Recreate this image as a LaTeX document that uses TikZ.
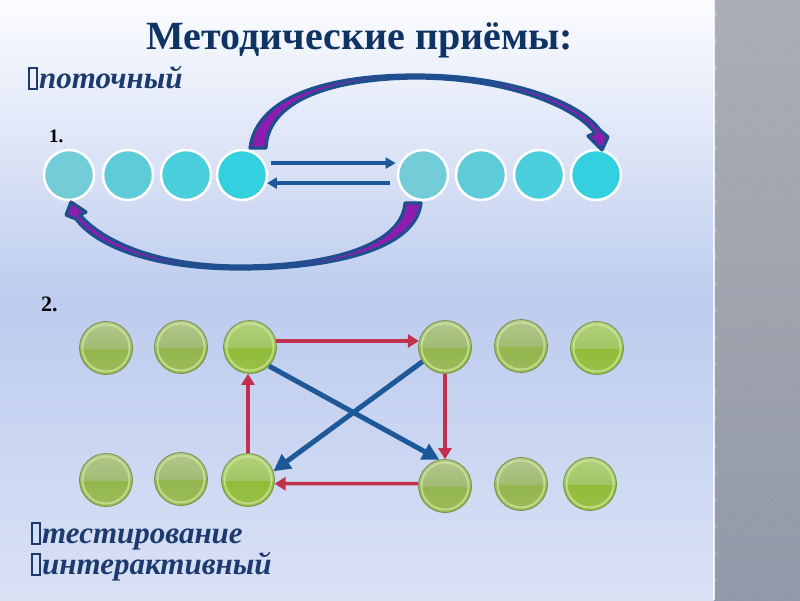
\documentclass[tikz,border=0pt]{standalone}
\usepackage{fontspec}
\setmainfont{Liberation Serif}
\usetikzlibrary{arrows.meta}
\definecolor{tcol}{HTML}{0F3362}
\definecolor{scol}{HTML}{1C3A6E}
\definecolor{bgtop}{HTML}{FBFCFF}
\definecolor{bgmid}{HTML}{BDCCEE}
\definecolor{bgbot}{HTML}{D9E1F5}
\definecolor{pantop}{HTML}{B8BCC4}
\definecolor{panbot}{HTML}{9EA5B5}
\definecolor{cyA}{HTML}{72CDD8}
\definecolor{cyB}{HTML}{5ECBD9}
\definecolor{cyC}{HTML}{4ACEDC}
\definecolor{cyD}{HTML}{33D1DF}
\definecolor{arcblue}{HTML}{1F4F8F}
\definecolor{arcfill}{HTML}{8C1DAE}
\definecolor{lblue}{HTML}{1D5898}
\definecolor{lred}{HTML}{C3304E}
\definecolor{gupA}{HTML}{B3C98E}
\definecolor{gupB}{HTML}{A2BC74}
\definecolor{glowA}{HTML}{8CB03F}
\definecolor{glowB}{HTML}{9CBC5C}
\definecolor{gupSA}{HTML}{B2D27E}
\definecolor{gupSB}{HTML}{A1C764}
\definecolor{glowSA}{HTML}{88B72A}
\definecolor{glowSB}{HTML}{99C24A}
\definecolor{gring}{HTML}{D3E6A0}
\definecolor{gedge}{HTML}{728C48}
\newcommand\bx{{\fboxsep=0pt\fboxrule=2pt\fbox{\rule{0pt}{19pt}\hspace{5.5pt}}}\hspace{1.5pt}}
\tikzset{
  cyc/.style={circle, inner sep=0pt, minimum size=50pt, draw=white, line width=2.5pt, fill=#1},
  gbase/.style n args={4}{circle, inner sep=0pt, minimum size=53pt, draw=gedge, line width=0.7pt, fill=#3,
    path picture={
      \shade[top color=#3, bottom color=#4] ([xshift=-30pt,yshift=-30pt]path picture bounding box.center) rectangle ([xshift=30pt]path picture bounding box.center);
      \shade[top color=#1, bottom color=#2] ([xshift=-30pt]path picture bounding box.center) rectangle ([xshift=30pt,yshift=30pt]path picture bounding box.center);
      \draw[gring, line width=2pt, opacity=0.7] (path picture bounding box.center) circle (23.5pt);
    }},
  gbtn/.style={gbase={gupA}{gupB}{glowA}{glowB}},
  gbtnS/.style={gbase={gupSA}{gupSB}{glowSA}{glowSB}},
  arcarrow/.style={draw=arcblue, line width=3.2pt, fill=arcfill, line join=round},
  barrow/.style={draw=lblue, line width=3.5pt, -{Triangle[length=10pt,width=11pt]}},
  bigblue/.style={draw=lblue, line width=5pt, -{Triangle[length=17pt,width=17pt]}},
  redarrow/.style={draw=lred, line width=3.5pt, -{Triangle[length=11pt,width=13pt]}},
  subtxt/.style={anchor=base west, font=\fontsize{31}{33}\selectfont\bfseries\itshape, text=scol, inner sep=0pt}
}
\begin{document}
\begin{tikzpicture}[x=1pt,y=-1pt]
\useasboundingbox (0,0) rectangle (800,600);
% background
\shade[top color=bgtop, bottom color=bgmid] (0,0) rectangle (714,300.5);
\shade[top color=bgmid, bottom color=bgbot] (0,300) rectangle (714,600);
% right panel
\begin{scope}
\clip (714,0) rectangle (800,600);
\shade[top color=pantop, bottom color=panbot] (714,0) rectangle (800,600);
\foreach \i in {0,...,7} {
  \foreach \j in {0,...,45} {
    \pgfmathparse{int(mod(\i+\j,2))}
    \ifnum\pgfmathresult=0
      \fill[black, opacity=0.07] (718+\i*13.5, \j*13.5-13.5) -- ++(13.5,13.5) -- ++(-13.5,13.5) -- ++(-13.5,-13.5) -- cycle;
    \fi
  }
}
\end{scope}
\fill[white, opacity=0.8] (712.5,0) rectangle (714.5,600);

% title and labels
\node[font=\fontsize{40}{44}\selectfont\bfseries, text=tcol] (title) at (360,40) {Методические приёмы:};
\node[subtxt] (sub1) at (28,88) {\bx поточный};
\node[anchor=base west, font=\fontsize{19}{20}\selectfont\bfseries, inner sep=0pt] (n1) at (49,142) {1.};
\node[anchor=base west, font=\fontsize{22}{24}\selectfont\bfseries, inner sep=0pt] (n2) at (41,311) {2.};
\node[subtxt] (sub2) at (31,543) {\bx тестирование};
\node[subtxt] (sub3) at (31,574) {\bx интерактивный};

% cyan circles
\node[cyc=cyA] (c1) at (69,175) {};
\node[cyc=cyB] (c2) at (128,175) {};
\node[cyc=cyC] (c3) at (186,175) {};
\node[cyc=cyD] (c4) at (242,175) {};
\node[cyc=cyA] (c5) at (423,175) {};
\node[cyc=cyB] (c6) at (481,175) {};
\node[cyc=cyC] (c7) at (539,175) {};
\node[cyc=cyD] (c8) at (596,175) {};

% straight arrows between groups
\draw[barrow, shorten <=6pt, shorten >=4pt] (c4.27) -- (c5.153);
\draw[barrow, shorten <=8pt] (c5.198) -- (c4.-18);

% top curved arrow
\draw[arcarrow] (250,148) .. controls (256,100) and (320,75) .. (415,75)
  .. controls (505,75) and (578,100) .. (600,130) -- (608,137) -- (602,150) -- (588,136) -- (595,133)
  .. controls (575,106) and (505,78) .. (415,78)
  .. controls (325,79) and (268,103) .. (266,148) -- cycle;
% bottom curved arrow
\draw[arcarrow] (421,203) .. controls (416,250) and (330,269) .. (240,269)
  .. controls (150,269) and (95,245) .. (76,219) -- (66,215) -- (71,202) -- (86,212) -- (80,215)
  .. controls (100,238) and (150,266) .. (240,266)
  .. controls (330,266) and (402,245) .. (405,203) -- cycle;

% green buttons
\node[gbtn]  (g1) at (106,348) {};
\node[gbtn]  (g2) at (181,347) {};
\node[gbtnS] (g3) at (250,347) {};
\node[gbtn]  (g4) at (445,347) {};
\node[gbtn]  (g5) at (521,346) {};
\node[gbtnS] (g6) at (597,348) {};
\node[gbtn]  (h1) at (106,480) {};
\node[gbtn]  (h2) at (181,479) {};
\node[gbtnS] (h3) at (248,480) {};
\node[gbtn]  (h4) at (445,486) {};
\node[gbtn]  (h5) at (521,484) {};
\node[gbtnS] (h6) at (590,484) {};

% red arrows
\draw[redarrow] (g3.13) -- (g4.167);
\draw[redarrow] (g4.south) -- (h4.north);
\draw[redarrow] (h4.175) -- (h3.-8);
\draw[redarrow] (h3.north) -- (h3.north |- g3.south);
% blue crossing arrows
\draw[bigblue] (g3.-45) -- (h4.102);
\draw[bigblue] (g4.213) -- (h3.19);
\end{tikzpicture}
\end{document}
